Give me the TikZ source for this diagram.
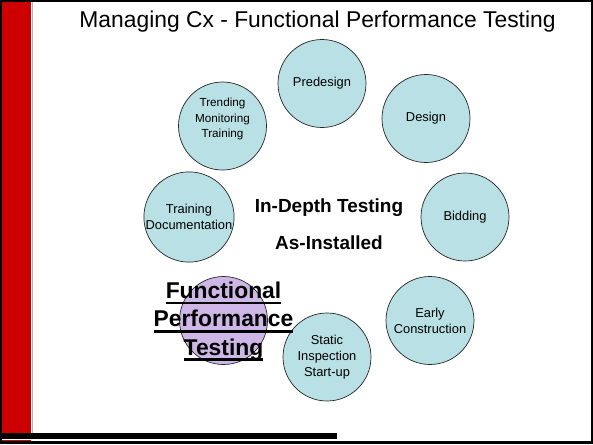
\documentclass[tikz,border=0pt]{standalone}
\usepackage{fontspec}
\setmainfont{Liberation Sans}
\usetikzlibrary{positioning}

\newcommand{\ftpul}[1]{\setbox0\hbox{#1}\rlap{\rule[-5pt]{\wd0}{2.4pt}}\box0}

\definecolor{slidered}{RGB}{204,0,0}
\definecolor{phasefill}{RGB}{185,224,228}
\definecolor{ftpfill}{RGB}{206,182,230}

\tikzset{
	phase/.style={circle,draw=black!85,line width=0.6pt,fill=phasefill,minimum size=2.64cm,inner sep=0pt,align=center,font=\fontsize{11}{13.5}\selectfont},
	phasetext/.style={align=center,font=\fontsize{10}{13.2}\selectfont},
	bigtext/.style={font=\fontsize{16.2}{19}\selectfont\bfseries}
}

\begin{document}
\begin{tikzpicture}[x=0.03cm,y=-0.03cm]
	
	\useasboundingbox (0,0) rectangle (593,444);
	\fill[slidered] (2,2) rectangle (31,433);
	\fill[slidered] (2,439.5) rectangle (31,441);
	\draw[gray!60,line width=0.4pt] (32,2) -- (32,433);
	\fill[black] (0,0) rectangle (593,2);
	\fill[black] (0,0) rectangle (2,444);
	\fill[black] (591,0) rectangle (593,444);
	\fill[black] (0,441) rectangle (593,444);
	\fill[black] (0,433) rectangle (337,439);
	
	\node (title) at (317.5,22) {\fontsize{19.5}{23}\selectfont Managing Cx - Functional Performance Testing};
	
	\node[phase] (predesign) at (322,83.5) {Predesign};
	\node[phase] (design) at (426,118.5) {Design};
	\node[phase] (bidding) at (465,217) {Bidding};
	\node[phase] (early) at (430,320.5) {Early\\Construction};
	\node[phase] (static) at (327,357) {Static\\Inspection\\Start-up};
	\node[phase,fill=ftpfill] (ftp) at (223.5,320.5) {};
	\node[phase] (training) at (189,217) {Training\\Documentation};
	\node[phase,label={[phasetext,yshift=0.21cm]center:Trending\\Monitoring\\Training}] (trending) at (222.5,126) {};
	
	\node[bigtext] (indepth) at (329,208) {In-Depth Testing};
	\node[bigtext] (installed) at (329,243) {As-Installed};
	
	\node[align=center,font=\fontsize{19.5}{24.2}\selectfont\bfseries] (ftptext) at (223.5,321.5) {\ftpul{Functional}\\\ftpul{Performance}\\\ftpul{Testing}};
	
\end{tikzpicture}
\end{document}
